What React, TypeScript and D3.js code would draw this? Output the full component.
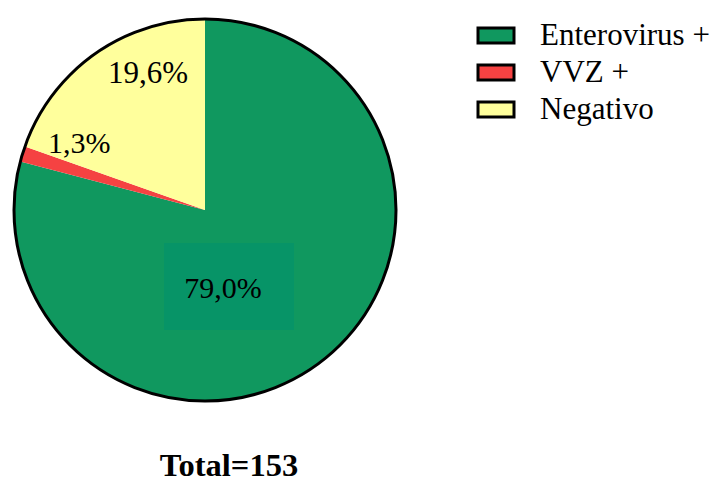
import React from "react";
import * as d3 from "d3";

const categories = ["Enterovirus +", "VVZ +", "Negativo"];
const values = [121, 2, 30];
const percentLabels = ["79,0%", "1,3%", "19,6%"];
const colors = ["#10985f", "#f54242", "#ffff9c"];
const totalLabel = "Total=153";

export default function App() {
  const cx = 205, cy = 210, r = 191;
  const pie = d3.pie<number>().sort(null).value((d) => d);
  const arcs = pie(values);
  const arc = d3.arc<d3.PieArcDatum<number>>().innerRadius(0).outerRadius(r);
  const labelPos: [number, number, string, number][] = [
    [18, 88, "middle", 30],
    [-157, -57, "start", 30],
    [-97, -127, "start", 31],
  ];
  const font = "Liberation Serif, Times New Roman, Times, DejaVu Serif, serif";
  return (
    <svg width={720} height={488} style={{ position: "absolute", left: 0, top: 0 }}>
      <rect width={720} height={488} fill="#fff" />
      <g transform={`translate(${cx},${cy})`}>
        {arcs.map((a, i) => (
          <path key={i} d={arc(a) || ""} fill={colors[i]} />
        ))}
        <rect x={-41} y={33} width={130} height={87} fill="#079467" />
        <circle r={r} fill="none" stroke="#000" strokeWidth={3} />
        {arcs.map((a, i) => (
          <text key={i} x={labelPos[i][0]} y={labelPos[i][1]} textAnchor={labelPos[i][2] as any}
            style={{ fontFamily: font, fontSize: labelPos[i][3] }} fill="#000">
            {percentLabels[i]}
          </text>
        ))}
      </g>
      {categories.map((c, i) => (
        <g key={c} transform={`translate(478,${28 + i * 37})`}>
          <rect width={36} height={15} fill={colors[i]} stroke="#000" strokeWidth={3} />
          <text x={62} y={17} style={{ fontFamily: font, fontSize: 31 }} fill="#000">{c}</text>
        </g>
      ))}
      <text x={229} y={476} textAnchor="middle" style={{ fontFamily: font, fontSize: 32.5, fontWeight: "bold" }} fill="#000">
        {totalLabel}
      </text>
    </svg>
  );
}
